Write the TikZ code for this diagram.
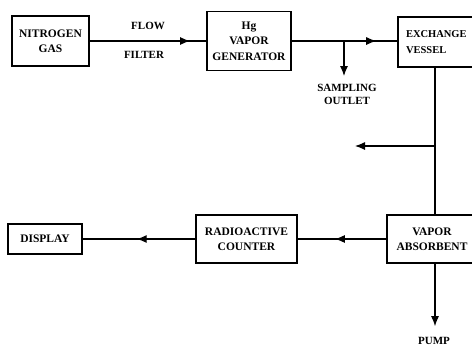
\documentclass[tikz,border=0pt]{standalone}
\usepackage{fontspec}
\setmainfont{Liberation Serif}
\usetikzlibrary{arrows.meta,decorations.markings}
\begin{document}
\begin{tikzpicture}[x=1pt,y=-1pt,
  box/.style={draw,line width=1.2pt,font=\bfseries\fontsize{11.5}{15.5}\selectfont,align=center,inner sep=0pt},
  lbl/.style={font=\bfseries\fontsize{11}{13}\selectfont,align=center,inner sep=0pt},
  conn/.style={line width=1.1pt},
  tipend/.style={-{Latex[length=10pt,width=8pt]}},
  midarrow/.style={postaction={decorate},decoration={markings,mark=at position #1 with {\arrow{Latex[length=10pt,width=8pt]}}}}
]
\useasboundingbox (0,0) rectangle (472,346);
\clip (0,0) rectangle (472,346);
\fill[white] (0,0) rectangle (472,346);

% nodes
\node[box,minimum width=77pt,minimum height=50pt] (ng) at (50.5,41) {NITROGEN\\GAS};
\node[box,minimum width=84pt,minimum height=59pt] (hg) at (249,41) {Hg\\VAPOR\\GENERATOR};
\node[box,font=\bfseries\fontsize{10.5}{16}\selectfont,minimum width=82pt,minimum height=50pt,text width=66pt,align=left,inner xsep=8pt] (ex) at (439,42) {EXCHANGE\\VESSEL};
\node[box,minimum width=90pt,minimum height=48pt] (abs) at (432,239) {VAPOR\\ABSORBENT};
\node[box,minimum width=101pt,minimum height=48pt] (ctr) at (246.5,239) {RADIOACTIVE\\COUNTER};
\node[box,minimum width=74pt,minimum height=30pt] (disp) at (45,239) {DISPLAY};

% labels
\node[lbl] (flow) at (148,26) {FLOW};
\node[lbl] (filter) at (144,55) {FILTER};
\node[lbl] (so) at (347,94.5) {SAMPLING\\OUTLET};
\node[lbl] (pump) at (434,341) {PUMP};

% coordinates
\coordinate (samp) at (344,76);
\coordinate (split) at (435,146);
\coordinate (branch) at (355,146);

% connectors
\draw[conn,midarrow=0.86] (ng.east) -- (hg.east -| hg.west);
\draw[conn,midarrow=0.80] (hg.east) -- (hg.east -| ex.west);
\draw[conn,tipend] (samp |- hg.east) -- (samp);
\draw[conn] (ex.south -| split) -- (abs.north -| split);
\draw[conn,tipend] (split) -- (branch);
\draw[conn,tipend,shorten >=11pt] (abs.south -| split) -- (pump.north -| split);
\draw[conn,midarrow=0.58] (abs.west) -- (ctr.east);
\draw[conn,midarrow=0.52] (ctr.west) -- (disp.east);
\end{tikzpicture}
\end{document}
